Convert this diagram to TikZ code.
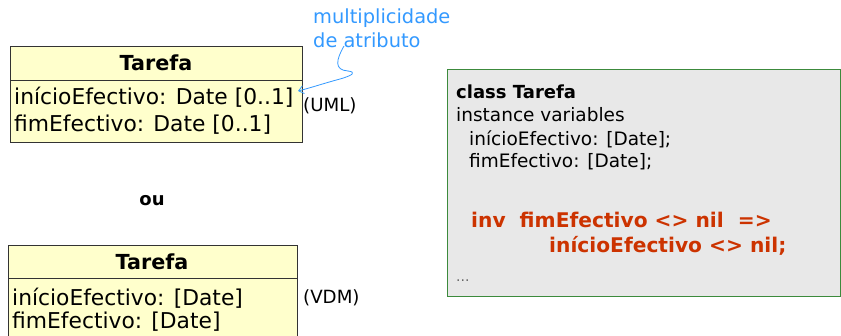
\documentclass[tikz,border=0pt]{standalone}
\usepackage{fontspec}
\setmainfont{DejaVu Sans}
\usetikzlibrary{arrows.meta}
\definecolor{classfill}{HTML}{FFFFCC}
\definecolor{notefill}{HTML}{E8E8E8}
\definecolor{noteedge}{HTML}{3C8A3C}
\definecolor{invred}{HTML}{CC3300}
\definecolor{hintblue}{HTML}{3399FF}
\tikzset{
  classbox/.style={draw=black!80, fill=classfill, line width=0.8pt},
  attr/.style={anchor=west, inner sep=0pt, font=\fontsize{21.8}{22}\selectfont},
  title/.style={inner sep=0pt, font=\fontsize{20.7}{21}\selectfont\bfseries},
  side/.style={anchor=west, inner sep=0pt, font=\fontsize{18.2}{18}\selectfont},
  code/.style={anchor=west, inner sep=0pt, font=\fontsize{18.5}{18}\selectfont},
  inv/.style={code, text=invred, font=\fontsize{20.2}{20}\selectfont\bfseries},
  hint/.style={anchor=west, inner sep=0pt, text=hintblue, font=\fontsize{19.4}{19}\selectfont},
}
\begin{document}
\begin{tikzpicture}[x=1pt,y=-1pt]
\useasboundingbox (0,0) rectangle (841,335);

% UML class
\draw[classbox] (10,46) rectangle (302,142);
\draw[black!80, line width=0.8pt] (10,80) -- (302,80);
\node[title] (umltitle) at (156,63) {Tarefa};
\node[attr] (umlstart) at (14,97) {inícioEfectivo: Date [0..1]};
\node[attr] (umlend) at (14,125) {fimEfectivo: Date [0..1]};
\node[side] (uml) at (303,106) {(UML)};

\node[inner sep=0pt, font=\fontsize{18}{18}\selectfont\bfseries] (ou) at (152,201) {ou};

% VDM class
\draw[classbox] (8,245) rectangle (297,340);
\draw[black!80, line width=0.8pt] (8,278) -- (297,278);
\node[title] (vdmtitle) at (152,262) {Tarefa};
\node[attr] (vdmstart) at (12,298) {inícioEfectivo: [Date]};
\node[attr] (vdmend) at (12,322) {fimEfectivo: [Date]};
\node[side] (vdm) at (303,298) {(VDM)};

% annotation
\node[hint] (hintA) at (313,18) {multiplicidade};
\node[hint] (hintB) at (313,40) {de atributo};
\coordinate (tail) at (344,46);
\coordinate (tip) at (298,91);
\draw[hintblue, line width=0.8pt, -{Straight Barb[length=5pt,width=8pt]}]
  (tail) .. controls (336,60) and (334,70) .. (348,71)
  .. controls (356,72) and (354,75) .. (340,79)
  .. controls (325,83) and (310,88) .. (tip);

% VDM++ note
\draw[noteedge, fill=notefill, line width=0.8pt] (447,69) rectangle (840,296);
\node[code, font=\fontsize{18}{18}\selectfont\bfseries] (cls) at (456,92) {class Tarefa};
\node[code] (iv) at (456,115) {instance variables};
\node[code] (v1) at (469,139) {inícioEfectivo: [Date];};
\node[code] (v2) at (469,162) {fimEfectivo: [Date];};
\node[inv] (i1) at (471,220) {inv\ \ fimEfectivo <> nil\ \ =>};
\node[inv] (i2) at (549,246) {inícioEfectivo <> nil;};
\node[code, text=black!60, font=\fontsize{14}{14}\selectfont] (dots) at (456,281) {...};
\end{tikzpicture}
\end{document}
